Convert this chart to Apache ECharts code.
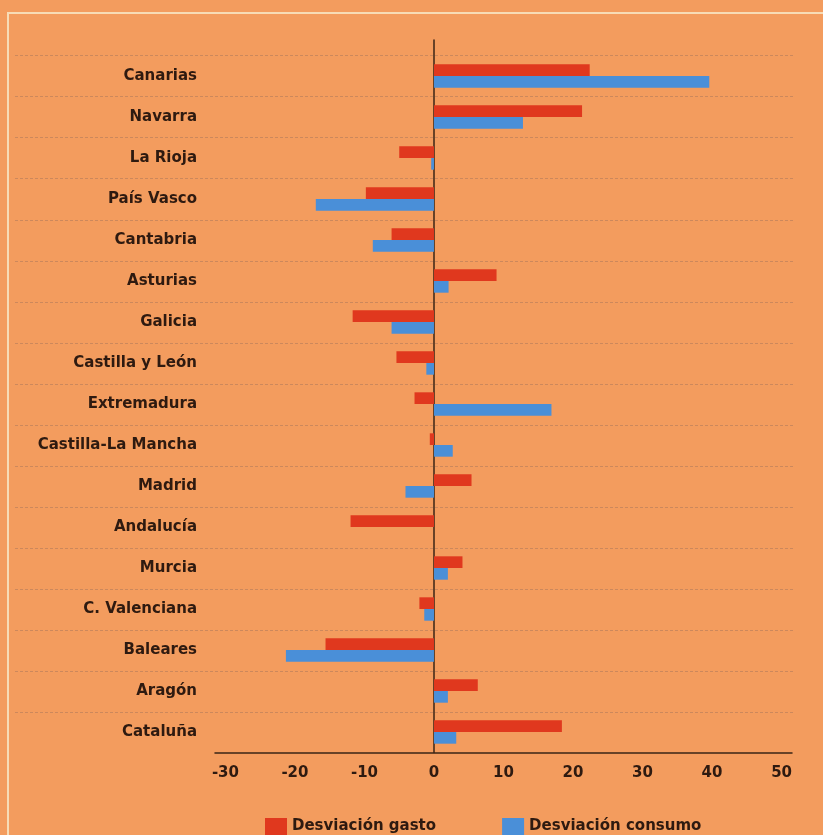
<!DOCTYPE html>
<html>
<head>
<meta charset="utf-8">
<script src="https://cdn.jsdelivr.net/npm/echarts@6/dist/echarts.min.js"></script>
<style>
  html, body { margin: 0; padding: 0; background: #f39c5e; }
  #holder { width: 823px; height: 835px; }
</style>
</head>
<body>
<div id="holder"></div>
<script>
// comunidades, de arriba abajo
var regiones = ['Canarias', 'Navarra', 'La Rioja', 'País Vasco', 'Cantabria', 'Asturias', 'Galicia',
  'Castilla y León', 'Extremadura', 'Castilla-La Mancha', 'Madrid', 'Andalucía', 'Murcia',
  'C. Valenciana', 'Baleares', 'Aragón', 'Cataluña']

var desv_gasto = [22.4, 21.3, -5.0, -9.8, -6.1, 9.0, -11.7, -5.4, -2.8, -0.6, 5.4, -12.0, 4.1, -2.1, -15.6, 6.3, 18.4]
var desv_consumo = [39.6, 12.8, -0.4, -17.0, -8.8, 2.1, -6.1, -1.1, 16.9, 2.7, -4.1, 0, 2.0, -1.4, -21.3, 2.0, 3.2]

var ticks_x = [-30, -20, -10, 0, 10, 20, 30, 40, 50]

var texto = '#2e1a10'
var fuente = 'DejaVu Sans'

var myChart = echarts.init(document.getElementById('holder'))

var option = {
  animation: false,
  backgroundColor: '#f39c5e',
  textStyle: { fontFamily: fuente },
  graphic: [
    {
      type: 'rect',
      shape: { x: 8, y: 13, width: 900, height: 900 },
      style: { fill: 'none', stroke: '#f7dcb6', lineWidth: 2 }
    }
  ],
  legend: {
    left: 260,
    top: 813,
    icon: 'rect',
    itemWidth: 22,
    itemHeight: 17,
    itemGap: 66,
    textStyle: { color: texto, fontSize: 15, fontWeight: 'bold', fontFamily: fuente }
  },
  grid: [
    // lineas punteadas
    { left: 15, right: 28, top: 55.5, bottom: 122.5 },
    // barras
    { left: 215, right: 31, top: 55.5, bottom: 82.5 },
    // eje vertical en cero
    { left: 215, right: 31, top: 40, bottom: 82.5 }
  ],
  xAxis: [
    { gridIndex: 0, type: 'value', show: false, min: 0, max: 1 },
    {
      gridIndex: 1,
      type: 'value',
      min: -31.5,
      max: 51.5,
      axisLine: { show: true, lineStyle: { color: '#3a2416', width: 1.5 } },
      axisTick: { show: false },
      splitLine: { show: false },
      axisLabel: {
        customValues: ticks_x,
        margin: 13,
        color: texto,
        fontSize: 15,
        fontWeight: 'bold',
        fontFamily: fuente
      }
    },
    {
      gridIndex: 2,
      type: 'value',
      min: -31.5,
      max: 51.5,
      axisLine: { show: false },
      axisTick: { show: false },
      axisLabel: { show: false },
      splitLine: { show: false }
    }
  ],
  yAxis: [
    {
      gridIndex: 0,
      type: 'value',
      inverse: true,
      min: 0,
      max: regiones.length - 1,
      interval: 1,
      axisLine: { show: false },
      axisTick: { show: false },
      axisLabel: { show: false },
      splitLine: {
        show: true,
        lineStyle: { color: 'rgba(150,110,90,0.42)', width: 1, type: [3, 2] }
      }
    },
    {
      gridIndex: 1,
      type: 'category',
      inverse: true,
      data: regiones,
      axisLine: { show: false, onZero: false },
      axisTick: { show: false },
      splitLine: { show: false },
      axisLabel: {
        margin: 18,
        color: texto,
        fontSize: 15,
        fontWeight: 'bold',
        fontFamily: fuente
      }
    },
    {
      gridIndex: 2,
      type: 'value',
      axisLine: { show: true, onZero: true, lineStyle: { color: '#3a2416', width: 1.5 } },
      axisTick: { show: false },
      axisLabel: { show: false },
      splitLine: { show: false }
    }
  ],
  series: [
    {
      name: 'Desviación gasto',
      type: 'bar',
      xAxisIndex: 1,
      yAxisIndex: 1,
      data: desv_gasto,
      barGap: '0%',
      barCategoryGap: '43%',
      itemStyle: { color: '#e0381e' }
    },
    {
      name: 'Desviación consumo',
      type: 'bar',
      xAxisIndex: 1,
      yAxisIndex: 1,
      data: desv_consumo,
      barGap: '0%',
      barCategoryGap: '43%',
      itemStyle: { color: '#4a8fd8' }
    }
  ]
}

myChart.setOption(option)
</script>
</body>
</html>
